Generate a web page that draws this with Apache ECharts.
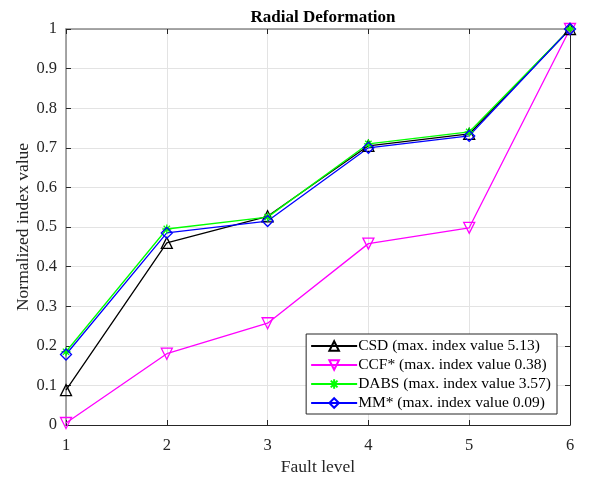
<!DOCTYPE html>
<html><head><meta charset="utf-8">
<script src="https://cdn.jsdelivr.net/npm/echarts@6/dist/echarts.min.js"></script>
<style>html,body{margin:0;padding:0;background:#fff}#c{width:590px;height:481px}</style>
</head><body><div id="c"></div>
<script>
const faultLevels = [1, 2, 3, 4, 5, 6];
const csd  = [0.088, 0.460, 0.527, 0.705, 0.735, 1.0];
const ccf  = [0.005, 0.180, 0.257, 0.458, 0.498, 1.0];
const dabs = [0.185, 0.495, 0.525, 0.710, 0.740, 1.0];
const mm   = [0.178, 0.485, 0.515, 0.700, 0.730, 1.0];
const names = ['CSD (max. index value 5.13)', 'CCF* (max. index value 0.38)', 'DABS (max. index value 3.57)', 'MM* (max. index value 0.09)'];
const yTicks = [0, 0.1, 0.2, 0.3, 0.4, 0.5, 0.6, 0.7, 0.8, 0.9, 1];

const pair = arr => faultLevels.map((x, i) => [x, arr[i]]);
const font = 'Liberation Serif, Times New Roman, serif';
const star = 'path://M0,-10L0,10M-10,0L10,0M-7,-7L7,7M-7,7L7,-7';

function mk(name, data, color, symbol, size, rot) {
  return {
    name, type: 'line', data: pair(data), symbol, symbolSize: size, symbolRotate: rot || 0,
    lineStyle: { color, width: 1.3 },
    itemStyle: { color: 'rgba(255,255,255,0)', borderColor: color, borderWidth: 1.3 },
    emphasis: { disabled: true }, z: 3
  };
}

const chart = echarts.init(document.getElementById('c'));
chart.setOption({
  animation: false,
  backgroundColor: '#fff',
  title: { text: 'Radial Deformation', left: 318, top: 4, textAlign: 'center',
    textStyle: { fontFamily: font, fontSize: 17, fontWeight: 'bold', color: '#000' } },
  grid: { left: 66, right: 20, top: 29, bottom: 54 },
  legend: {
    right: 33, top: 334, orient: 'vertical', itemWidth: 46, itemHeight: 12, itemGap: 3,
    backgroundColor: '#fff', borderColor: '#262626', borderWidth: 1, padding: [4, 6, 3, 4],
    textStyle: { fontFamily: font, fontSize: 15.5, color: '#000', padding: [0, 0, 0, -4] },
    data: names
  },
  xAxis: [{
    type: 'value', min: 1, max: 6, interval: 1,
    name: 'Fault level', nameLocation: 'middle', nameGap: 33, nameMoveOverlap: false,
    nameTextStyle: { fontFamily: font, fontSize: 17.5, color: '#262626' },
    axisLine: { show: true, onZero: false, lineStyle: { color: '#262626', width: 1 } },
    axisTick: { inside: true, length: 5, lineStyle: { color: '#262626' } },
    axisLabel: { fontFamily: font, fontSize: 16.5, color: '#262626', margin: 12 },
    splitLine: { show: true, lineStyle: { color: '#e3e3e3', width: 1 } }
  }, {
    type: 'value', min: 1, max: 6, interval: 1, position: 'top',
    axisLine: { show: true, onZero: false, lineStyle: { color: '#8a8a8a', width: 1.5 } },
    axisTick: { inside: true, length: 5, lineStyle: { color: '#262626' } },
    axisLabel: { show: false }, splitLine: { show: false }
  }],
  yAxis: [{
    type: 'value', min: 0, max: 1, interval: 0.1,
    name: 'Normalized index value', nameLocation: 'middle', nameGap: 34, nameMoveOverlap: false,
    nameTextStyle: { fontFamily: font, fontSize: 17.5, color: '#262626' },
    axisLine: { show: true, onZero: false, lineStyle: { color: '#8a8a8a', width: 1.5 } },
    axisTick: { inside: true, length: 5, lineStyle: { color: '#262626' } },
    axisLabel: { fontFamily: font, fontSize: 16.5, color: '#262626', margin: 9,
      formatter: v => { const t = yTicks.find(k => Math.abs(k - v) < 1e-6); return t === undefined ? '' : String(t); } },
    splitLine: { show: true, lineStyle: { color: '#e3e3e3', width: 1 } }
  }, {
    type: 'value', min: 0, max: 1, interval: 0.1, position: 'right',
    axisLine: { show: true, onZero: false, lineStyle: { color: '#262626', width: 1 } },
    axisTick: { inside: true, length: 5, lineStyle: { color: '#262626' } },
    axisLabel: { show: false }, splitLine: { show: false }
  }],
  series: [
    mk(names[0], csd, '#000000', 'triangle', 11),
    mk(names[1], ccf, '#ff00ff', 'triangle', 11, 180),
    mk(names[2], dabs, '#00ff00', star, 9),
    mk(names[3], mm, '#0000ff', 'diamond', 11)
  ]
});
</script></body></html>
